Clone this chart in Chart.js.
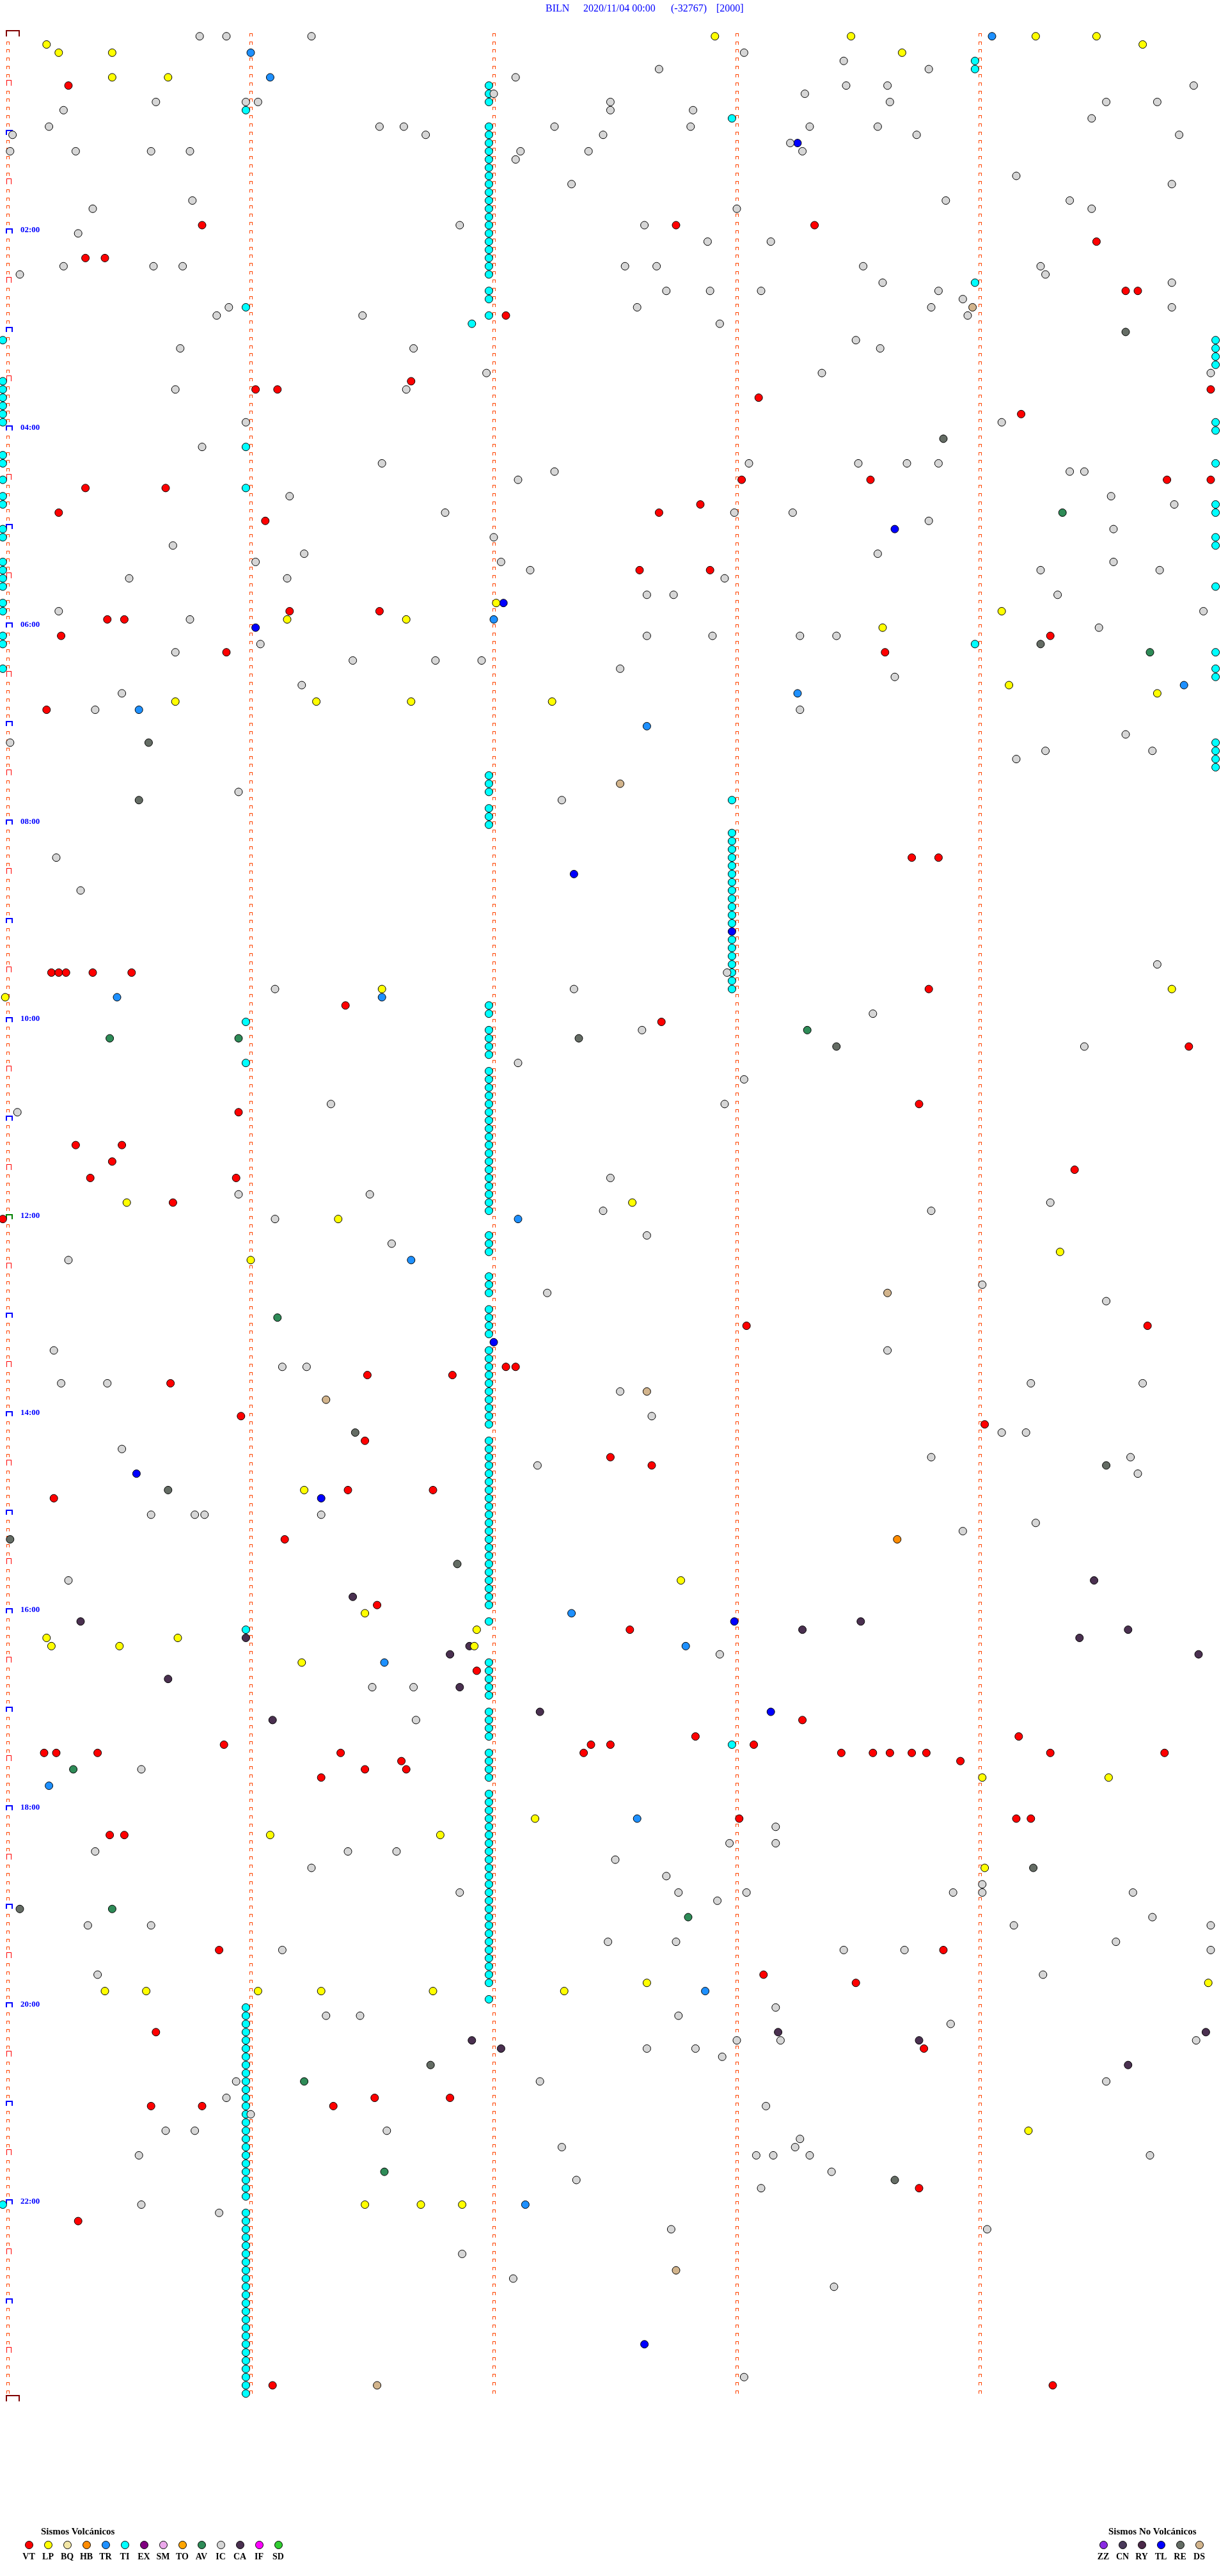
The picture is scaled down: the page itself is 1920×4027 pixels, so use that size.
<!DOCTYPE html>
<html><head><meta charset="utf-8">
<script src="https://cdn.jsdelivr.net/npm/chart.js@4.4.1/dist/chart.umd.min.js"></script>
<style>
html,body{margin:0;padding:0;background:#fff;}
#wrap{position:relative;width:1920px;height:4027px;overflow:hidden;font-family:"Liberation Serif","Times New Roman",serif;background:#fff;}
#c{position:absolute;left:0;top:0;}
.t{position:absolute;white-space:nowrap;}
.dot{position:absolute;width:13px;height:13px;box-sizing:border-box;border:1px solid #000;border-radius:50%;}
</style></head><body>
<div id="wrap"><canvas id="c" width="1920" height="4027"></canvas></div>
<script>
// ---- Event times, in minutes since 00:00 (as plotted: row = 5-minute line, x = offset in the line) ----
const VT = [30.25,115.80,117.75,118.32,129.48,135.32,135.40,159.60,159.65,172.05,211.66,216.02,216.11,219.95,223.09,234.17,
273.02,273.55,274.77,274.95,275.32,275.65,287.85,290.21,292.68,296.06,327.60,327.89,351.16,351.53,355.41,355.48,365.22,369.29,
375.90,378.61,410.16,503.72,503.83,570.18,570.21,570.24,570.35,570.51,583.79,591.39,602.69,619.86,653.75,655.95,675.28,675.47,
685.43,694.39,695.34,695.94,710.68,719.98,788.04,789.69,812.05,812.09,816.48,816.83,820.67,840.96,849.02,856.47,867.48,872.65,
886.40,886.75,890.19,916.14,956.52,972.56,996.93,1028.27,1037.83,1039.16,1040.89,1042.40,1042.48,1043.07,1045.15,1045.20,1045.37,
1046.37,1047.37,1048.43,1048.56,1048.63,1048.72,1048.78,1049.29,1049.76,1051.62,1053.92,1056.47,1056.64,1061.29,1088.01,1089.15,
1089.21,1095.42,1095.48,1165.87,1168.85,1183.11,1188.49,1215.61,1228.77,1256.51,1256.82,1260.59,1260.80,1261.34,1313.75,1330.29,
1431.09,1434.30];
const LP = [2.91,3.47,4.23,4.48,5.16,9.67,10.21,10.43,13.68,25.43,25.66,347.01,354.09,356.15,356.64,363.60,399.12,404.73,405.69,
406.27,406.66,407.24,581.54,584.79,584.99,710.49,712.57,721.36,744.33,746.00,886.22,942.77,961.47,971.93,975.16,975.70,980.18,
980.46,981.92,991.21,1064.01,1064.53,1087.17,1096.08,1096.78,1119.02,1187.63,1189.94,1190.40,1190.57,1191.03,1191.29,1191.75,
1192.29,1279.20,1321.47,1321.70,1321.87];
const TR = [4.05,11.00,26.08,357.00,399.84,403.25,410.54,422.63,585.45,586.54,722.10,746.66,962.32,982.79,991.55,1065.17,1087.59,
1192.87,1322.13];
const TI = [45.98,165.98,250.98,275.98,600.98,625.98,970.98,
1200.98,1205.98,1210.98,1215.98,1220.98,1225.98,1230.98,1235.98,1240.98,1245.98,1250.98,1255.98,1260.98,1265.98,1270.98,1275.98,
1280.98,1285.98,1290.98,1295.98,1300.98,1305.98,1310.98,1315.98,
1325.98,1330.98,1335.98,1340.98,1345.98,1350.98,1355.98,1360.98,1365.98,1370.98,1375.98,1380.98,1385.98,1390.98,1395.98,1400.98,
1405.98,1410.98,1415.98,1420.98,1425.98,1430.98,1435.98,
31.98,36.98,41.98,56.98,61.98,66.98,71.98,76.98,81.98,86.98,91.98,96.98,101.98,106.98,111.98,116.98,121.98,126.98,131.98,136.98,
141.98,146.98,156.98,161.98,171.98,176.91,451.98,456.98,461.98,471.98,476.98,481.98,591.98,596.98,606.98,611.98,616.98,621.98,
631.98,636.98,641.98,646.98,651.98,656.98,661.98,666.98,671.98,676.98,681.98,686.98,691.98,696.98,701.98,706.98,711.98,716.98,
731.98,736.98,741.98,756.98,761.98,766.98,776.98,781.98,786.98,791.98,801.98,806.98,811.98,816.98,821.98,826.98,831.98,836.98,
841.98,846.98,856.98,861.98,866.98,871.98,876.98,881.98,886.98,891.98,896.98,901.98,906.98,911.98,916.98,921.98,926.98,931.98,
936.98,941.98,946.98,951.98,956.98,966.98,991.98,996.98,1001.98,1006.98,1011.98,1021.98,1026.98,1031.98,1036.98,1046.98,1051.98,
1056.98,1061.98,1071.98,1076.98,1081.98,1086.98,1091.98,1096.98,1101.98,1106.98,1111.98,1116.98,1121.98,1126.98,1131.98,1136.98,
1141.98,1146.98,1151.98,1156.98,1161.98,1166.98,1171.98,1176.98,1181.98,1186.98,1196.98,
52.98,467.98,487.98,492.98,497.98,502.98,507.98,512.98,517.98,522.98,527.98,532.98,537.98,542.98,552.98,557.98,562.98,567.98,
572.98,577.98,582.98,1042.98,
18.98,23.98,153.98,373.98,
189.97,194.97,199.97,204.97,239.97,244.97,264.97,289.97,294.97,309.97,314.97,339.97,379.97,389.97,394.97,434.97,439.97,444.97,449.97,
184.98,209.98,214.98,219.98,224.98,229.98,234.98,254.98,259.98,269.98,279.98,284.98,299.98,304.98,319.98,324.98,329.98,334.98,
344.98,349.98,364.98,369.98,384.98,1319.98];
const HB = [918.66];
const AV = [294.34,379.70,608.29,610.42,610.95,781.11,1055.27,1140.43,1147.80,1246.22,1301.55];
const IC = [0.79,0.90,1.25,13.03,18.44,22.68,23.79,27.09,33.45,33.62,34.88,37.00,38.28,40.61,40.98,41.03,42.48,43.63,44.52,44.73,
45.23,47.48,47.82,54.46,55.17,56.53,56.63,57.25,57.81,58.30,58.58,60.02,61.72,62.45,63.74,64.82,68.22,70.01,70.28,70.59,70.75,
72.11,72.39,73.27,77.09,89.15,92.32,94.79,100.76,103.86,104.37,105.35,108.00,109.46,116.86,117.62,120.29,127.88,128.14,140.23,
140.60,140.72,142.54,142.67,143.52,144.25,145.05,149.27,153.60,154.79,157.71,157.89,158.10,158.83,163.93,165.91,167.59,168.80,
169.79,170.86,171.46,173.95,177.93,188.49,190.71,191.67,193.59,206.97,208.35,209.95,215.69,216.64,235.98,239.09,250.80,261.54,
263.05,263.50,263.70,263.83,267.25,269.37,269.43,272.10,281.16,284.54,289.80,291.80,292.99,293.23,298.79,304.55,307.00,310.68,
316.22,318.58,321.02,322.03,324.55,327.15,329.25,329.74,330.50,331.15,332.95,342.63,342.74,344.32,350.21,354.92,355.75,364.49,
367.63,367.90,368.26,368.41,371.04,375.69,381.42,381.76,381.95,387.52,393.65,396.21,400.47,410.36,413.26,429.60,430.01,439.27,
439.71,444.15,460.95,467.28,500.20,520.30,569.73,572.96,581.10,582.33,598.56,607.61,619.43,627.10,638.03,651.33,652.95,655.04,
697.48,705.95,706.49,714.29,717.45,718.80,721.10,732.63,736.58,745.25,764.01,767.22,774.52,800.19,803.62,811.13,811.23,820.22,
820.41,824.21,824.67,827.52,842.65,854.09,854.19,860.47,868.80,869.62,872.18,879.65,900.59,900.77,900.81,901.29,909.23,913.93,
940.25,987.93,1006.50,1006.67,1026.68,1055.55,1093.16,1102.97,1103.16,1105.36,1106.40,1106.60,1112.50,1116.25,1122.71,1129.01,
1131.86,1132.76,1133.04,1133.89,1134.01,1134.63,1137.92,1149.71,1150.33,1150.59,1154.14,1154.95,1162.47,1162.75,1164.56,1166.13,
1168.44,1168.69,1169.95,1180.37,1184.26,1203.16,1206.31,1206.45,1207.76,1213.88,1223.00,1223.18,1224.89,1227.63,1227.83,1232.94,
1245.94,1247.19,1249.52,1255.90,1263.12,1266.00,1275.65,1275.77,1276.56,1283.26,1287.28,1288.24,1290.54,1293.08,1293.15,1293.30,
1294.70,1303.39,1307.34,1313.10,1320.55,1325.87,1337.73,1339.03,1351.87,1367.08,1373.40,1428.03];
const CA = [944.47,951.42,965.30,968.51,973.27,974.61,975.98,979.41,981.90,986.82,989.90,1000.66,1006.86,1022.19,1026.09,1218.17,
1219.93,1221.91,1223.75,1227.03,1239.61];
const TL = [68.25,303.65,347.04,361.02,512.33,547.98,797.00,875.53,891.29,967.99,1023.14,1407.62];
const RE = [184.60,248.85,374.25,430.58,465.54,612.35,618.41,851.43,874.52,885.66,915.01,931.85,1119.22,1140.05,1236.74,1308.65];
const DS = [168.97,457.52,768.62,827.63,831.31,1362.75,1431.52];

// ---- Categories / labels ----
const VOLC_CODES  = ["VT","LP","BQ","HB","TR","TI","EX","SM","TO","AV","IC","CA","IF","SD"];
const VOLC_COLORS = ["#FF0000","#FFFF00","#F2E6A6","#FF8C00","#1E90FF","#00FFFF","#800080","#EBA8EB","#FFA500","#2E8B57","#D6D6D6","#4A3050","#FF00FF","#32CD32"];
const NONV_CODES  = ["ZZ","CN","RY","TL","RE","DS"];
const NONV_COLORS = ["#8A2BE2","#4A3A5A","#4A2848","#0000FF","#646C64","#D2B48C"];
const HOUR_LABELS = ["02:00","04:00","06:00","08:00","10:00","12:00","14:00","16:00","18:00","20:00","22:00"];
const TITLE = ["BILN","2020/11/04 00:00","(-32767)","[2000]"];
const SERIES = {VT, LP, TR, TI, HB, AV, IC, CA, TL, RE, DS};

const ROWS = 288, MIN_PER_ROW = 5, MINUTE_LINES = [0,1,2,3,4];

// ---- layout ----
const X_MIN = -12/380, X_MAX = 1908/380;
const Y_MIN = -56.7/12.84, Y_MAX = Y_MIN + 4027/12.84;

const colorOf = {};
VOLC_CODES.forEach((c,i)=>colorOf[c]=VOLC_COLORS[i]);
NONV_CODES.forEach((c,i)=>colorOf[c]=NONV_COLORS[i]);

function toPoints(arr){
  return arr.map(t=>{const r=Math.floor((t+0.025)/MIN_PER_ROW);return {x:t-MIN_PER_ROW*r,y:r};});
}

const order = ["IC","TI","VT","LP","TR","HB","AV","CA","TL","RE","DS"];
const datasets = order.map(k=>({
  label:k, data:toPoints(SERIES[k]), backgroundColor:colorOf[k], borderColor:"#000",
  borderWidth:1, pointRadius:6, pointHoverRadius:6, clip:false
}));

function bracket(ctx,x,y,w,h,lw,color){
  ctx.fillStyle=color;
  ctx.fillRect(x,y,w,lw); ctx.fillRect(x,y,lw,h); ctx.fillRect(x+w-lw,y,lw,h);
}

const markers = {
  id:"markers",
  beforeDatasetsDraw(chart){
    const ctx=chart.ctx, xs=chart.scales.x, ys=chart.scales.y;
    ctx.save();
    for(let r=0;r<=ROWS;r++){
      const py=Math.round(ys.getPixelForValue(r));
      MINUTE_LINES.forEach(m=>{
        const px=Math.round(xs.getPixelForValue(m));
        if(m===0 && (r===0 || r===ROWS)){ bracket(ctx,px-3,py-(r===0?10:11),22,10,2,"#800000"); return; }
        if(r===ROWS) return;
        if(m===0 && r%12===0){ bracket(ctx,px-3,py-8,11,8,2,r===144?"#008000":"#0000FF"); return; }
        if(m===0 && r%6===0){ bracket(ctx,px-2,py-9,8,9,1,"#FF0000"); return; }
        bracket(ctx,px-2,py-5,5,5,1,"#FF4500");
      });
    }
    ctx.restore();
  }
};

const chart = new Chart(document.getElementById("c"),{
  type:"scatter",
  data:{datasets},
  options:{
    responsive:false, animation:false, events:[],
    layout:{padding:0, autoPadding:false},
    plugins:{legend:{display:false},tooltip:{enabled:false}},
    scales:{
      x:{type:"linear",display:false,min:X_MIN,max:X_MAX},
      y:{type:"linear",display:false,reverse:true,min:Y_MIN,max:Y_MAX}
    }
  },
  plugins:[markers]
});

// ---- text overlays ----
const wrap=document.getElementById("wrap");
function addText(txt,left,centerY,size,color,bold,align){
  const d=document.createElement("div");
  d.className="t"; d.textContent=txt;
  d.style.fontSize=size+"px"; d.style.lineHeight=size+"px";
  d.style.top=(centerY-size/2)+"px"; d.style.color=color;
  d.style.fontWeight=bold?"bold":"normal";
  if(align==="center"){ d.style.left=(left-40)+"px"; d.style.width="80px"; d.style.textAlign="center"; }
  else d.style.left=left+"px";
  wrap.appendChild(d);
}
const titleX=[853,912,1049,1120];
TITLE.forEach((s,i)=>addText(s,titleX[i],13,16,"#0000FF",false));

const ys=chart.scales.y, xs=chart.scales.x;
HOUR_LABELS.forEach(h=>{
  const r=parseInt(h,10)*12;
  addText(h,32,ys.getPixelForValue(r)-6,13,"#0000FF",true);
});

function legend(codes,colors,title,titleX,x0){
  addText(title,titleX,3957,15,"#000",true);
  codes.forEach((c,i)=>{
    const cx=x0+30*i;
    const d=document.createElement("div");
    d.className="dot"; d.style.left=(cx-6.5)+"px"; d.style.top=(3978-6.5)+"px"; d.style.background=colors[i];
    wrap.appendChild(d);
    addText(c,cx,3997,14,"#000",true,"center");
  });
}
legend(VOLC_CODES,VOLC_COLORS,"Sismos Volcánicos",64,45);
legend(NONV_CODES,NONV_COLORS,"Sismos No Volcánicos",1733,1725);
</script>
</body></html>
